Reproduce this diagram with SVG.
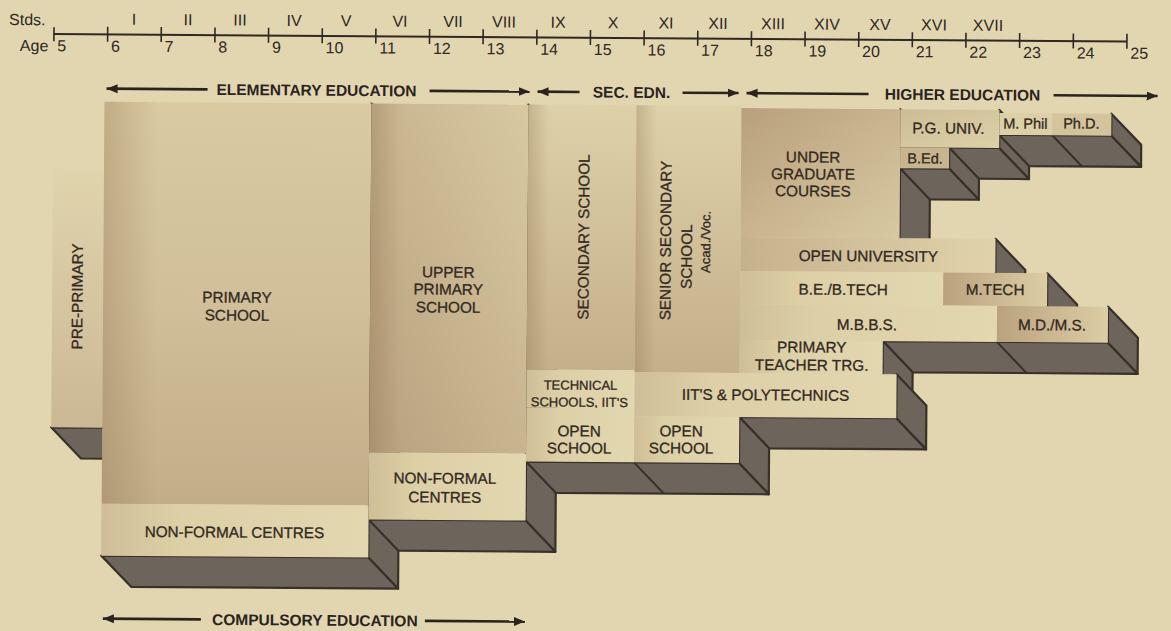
<svg xmlns="http://www.w3.org/2000/svg" width="1171" height="631" viewBox="0 0 1171 631">
<defs>
<style>
.t{font-family:"Liberation Sans",Arial,Helvetica,sans-serif;font-size:15.3px;fill:#33291f;stroke:#33291f;stroke-width:0.3;text-anchor:middle}
.s{font-size:13px}
.h{font-family:"Liberation Sans",Arial,Helvetica,sans-serif;font-size:15.5px;font-weight:bold;fill:#2a231e;text-anchor:middle}
.ax{font-family:"Liberation Sans",Arial,Helvetica,sans-serif;font-size:16px;fill:#2f2823}
.axm{text-anchor:middle}
.face{fill:#6d645c;stroke:#38302a;stroke-width:2.2;stroke-linejoin:round}
.div{stroke:#38302a;stroke-width:2;fill:none}
.arr{stroke:#2a231e;stroke-width:2.6;fill:none;marker-end:url(#ah)}
</style>
<marker id="ah" markerUnits="userSpaceOnUse" markerWidth="12" markerHeight="10" refX="11" refY="5" orient="auto"><path d="M0,0.5 L11,5 L0,9.5 z" fill="#2a231e"/></marker>
<linearGradient id="gPre" x1="0" y1="0" x2="0" y2="1"><stop offset="0" stop-color="#e0d4ad"/><stop offset="1" stop-color="#cbb894"/></linearGradient>
<linearGradient id="gPrim" x1="0" y1="0" x2="0" y2="1"><stop offset="0" stop-color="#d9caa1"/><stop offset="0.5" stop-color="#d0bf99"/><stop offset="1" stop-color="#c2ad89"/></linearGradient>
<linearGradient id="gUpr" x1="1" y1="0" x2="0" y2="1"><stop offset="0" stop-color="#d8c9a1"/><stop offset="1" stop-color="#b8a07e"/></linearGradient>
<linearGradient id="gSec" x1="0" y1="0" x2="0" y2="1"><stop offset="0" stop-color="#ded1a9"/><stop offset="1" stop-color="#c4af8b"/></linearGradient>
<linearGradient id="gUG" x1="0" y1="0" x2="1" y2="1"><stop offset="0" stop-color="#b9a07d"/><stop offset="1" stop-color="#d8c9a1"/></linearGradient>
<linearGradient id="gLight" x1="0" y1="0" x2="1" y2="0"><stop offset="0" stop-color="#cfbe97"/><stop offset="0.3" stop-color="#ddd0a7"/><stop offset="1" stop-color="#e3d7b0"/></linearGradient>
<linearGradient id="gDarkL" x1="0" y1="0" x2="1" y2="0"><stop offset="0" stop-color="#bba27f"/><stop offset="1" stop-color="#dbcda4"/></linearGradient>
<linearGradient id="gOU" x1="0" y1="0" x2="1" y2="0"><stop offset="0" stop-color="#c6b18d"/><stop offset="1" stop-color="#e0d3aa"/></linearGradient>
<linearGradient id="gPG" x1="0" y1="0" x2="1" y2="1"><stop offset="0" stop-color="#cdbd96"/><stop offset="1" stop-color="#ddd0a7"/></linearGradient>
<linearGradient id="gShade" x1="0" y1="0" x2="1" y2="0"><stop offset="0" stop-color="#8a6a48" stop-opacity="0.3"/><stop offset="0.2" stop-color="#8a6a48" stop-opacity="0"/></linearGradient>
</defs>
<rect width="1171" height="631" fill="#e2d6b1"/>
<g id="scene" transform="rotate(0.4 585 315)">
<g id="axis">
<line x1="52" y1="37.7" x2="1125" y2="37.7" stroke="#2f2823" stroke-width="2"/>
<path d="M52,31V45 M105.7,30V45 M159.3,30V45 M213,30V45 M266.6,30V45 M320.3,30V45 M373.9,30V45 M427.6,30V45 M481.2,30V45 M534.9,30V45 M588.5,30V45 M642.2,30V45 M695.8,30V45 M749.5,30V45 M803.1,30V45 M856.8,30V45 M910.4,30V45 M964,30V45 M1017.7,30V45 M1071.4,30V45 M1125,30V45" stroke="#2f2823" stroke-width="1.6" fill="none"/>
<text class="ax" x="7" y="29">Stds.</text>
<text class="ax" x="18" y="55">Age</text>
<g class="ax axm">
<text x="132" y="28">I</text><text x="186" y="28">II</text><text x="238" y="28">III</text><text x="292" y="28">IV</text><text x="344" y="28">V</text><text x="398" y="28">VI</text><text x="451" y="28">VII</text><text x="502" y="28">VIII</text><text x="556" y="28">IX</text><text x="611" y="28">X</text><text x="664" y="28">XI</text><text x="716" y="28">XII</text><text x="771" y="28">XIII</text><text x="825" y="28">XIV</text><text x="878" y="28">XV</text><text x="932" y="28">XVI</text><text x="986" y="28">XVII</text>
</g>
<g class="ax">
<text x="55.5" y="55">5</text><text x="109.2" y="55">6</text><text x="162.8" y="55">7</text><text x="216.5" y="55">8</text><text x="270.1" y="55">9</text><text x="323.8" y="55">10</text><text x="377.4" y="55">11</text><text x="431.1" y="55">12</text><text x="484.7" y="55">13</text><text x="538.4" y="55">14</text><text x="592" y="55">15</text><text x="645.7" y="55">16</text><text x="699.3" y="55">17</text><text x="753" y="55">18</text><text x="806.6" y="55">19</text><text x="860.3" y="55">20</text><text x="913.9" y="55">21</text><text x="967.5" y="55">22</text><text x="1021.2" y="55">23</text><text x="1074.9" y="55">24</text><text x="1128.5" y="55">25</text>
</g>
</g>
<g id="depth-faces">
<polygon class="face" points="52,431 103,431 133,462 82,462"/>
<polygon class="face" points="370,105 400,136 400,590 370,559"/>
<polygon class="face" points="103,559 370,559 400,590 133,590"/>
<polygon class="face" points="527,105 557,136 557,552 527,521"/>
<polygon class="face" points="370,521 527,521 557,552 400,552"/>
<polygon class="face" points="899,107 929,138 929,240 899,240"/>
<polygon class="face" points="998,107 1028,138 1028,176 998,145"/>
<polygon class="face" points="1110,110 1140,141 1140,163 1110,132"/>
<polygon class="face" points="998,132 1110,132 1140,163 1028,163"/>
<line class="div" x1="1051" y1="132" x2="1081" y2="163"/>
<polygon class="face" points="899,145 998,145 1028,176 929,176"/>
<polygon class="face" points="948,145 978,176 978,197 948,166"/>
<polygon class="face" points="899,166 948,166 978,197 929,197"/>
<polygon class="face" points="995,236 1025,267 1025,301 995,270"/>
<polygon class="face" points="1047,270 1077,301 1077,334 1047,303"/>
<polygon class="face" points="1108,303 1138,334 1138,370 1108,339"/>
<polygon class="face" points="883,339 1108,339 1138,370 913,370"/>
<line class="div" x1="997" y1="339" x2="1027" y2="370"/>
<polygon class="face" points="883,339 913,370 913,403 883,372"/>
<polygon class="face" points="897,372 927,403 927,447 897,416"/>
<polygon class="face" points="740,416 897,416 927,447 770,447"/>
<polygon class="face" points="740,416 770,447 770,493 740,462"/>
<polygon class="face" points="527,462 740,462 770,493 557,493"/>
<line class="div" x1="635" y1="462" x2="665" y2="493"/>
</g>
<g id="pre-primary">
<rect x="52" y="172" width="51" height="259" fill="url(#gPre)"/>
<text class="t" transform="rotate(-90 77 300)" x="77" y="305.4">PRE-PRIMARY</text>
</g>
<g id="primary-school">
<rect x="103" y="105" width="267" height="402" fill="url(#gPrim)"/>
<rect x="103" y="105" width="267" height="454" fill="url(#gShade)"/>
<text class="t" x="237" y="305">PRIMARY</text>
<text class="t" x="237" y="323">SCHOOL</text>
</g>
<g id="primary-non-formal">
<rect x="103" y="507" width="267" height="52" fill="url(#gLight)"/>
<text class="t" x="236" y="540">NON-FORMAL CENTRES</text>
</g>
<g id="upper-primary-school">
<rect x="370" y="105" width="157" height="349" fill="url(#gUpr)"/>
<rect x="370" y="105" width="157" height="349" fill="url(#gShade)"/>
<text class="t" x="448" y="278.5">UPPER</text>
<text class="t" x="448" y="295.5">PRIMARY</text>
<text class="t" x="448" y="313.5">SCHOOL</text>
</g>
<g id="upper-primary-non-formal">
<rect x="370" y="454" width="157" height="67" fill="url(#gLight)"/>
<text class="t" x="446" y="484.5">NON-FORMAL</text>
<text class="t" x="446" y="503.5">CENTRES</text>
</g>
<g id="secondary-school">
<rect x="527" y="105" width="108" height="265" fill="url(#gSec)"/>
<rect x="527" y="105" width="108" height="265" fill="url(#gShade)"/>
<text class="t" transform="rotate(-90 583 237)" x="583" y="242.4">SECONDARY SCHOOL</text>
</g>
<g id="technical-schools">
<rect x="527" y="370" width="108" height="38" fill="url(#gLight)"/>
<text class="t s" x="581" y="389.7">TECHNICAL</text>
<text class="t s" x="580" y="406.7">SCHOOLS, IIT'S</text>
</g>
<g id="open-school-secondary">
<rect x="527" y="408" width="108" height="54" fill="url(#gLight)"/>
<text class="t" x="580" y="436.4">OPEN</text>
<text class="t" x="580" y="453.4">SCHOOL</text>
</g>
<g id="senior-secondary-school">
<rect x="635" y="105" width="105" height="267" fill="url(#gSec)"/>
<rect x="635" y="105" width="105" height="267" fill="url(#gShade)"/>
<text class="t" transform="rotate(-90 665 240)" x="665" y="245.4">SENIOR SECONDARY</text>
<text class="t" transform="rotate(-90 686 256)" x="686" y="261.4">SCHOOL</text>
<text class="t s" transform="rotate(-90 705 241)" x="705" y="245.7">Acad./Voc.</text>
</g>
<g id="iits-polytechnics">
<rect x="635" y="372" width="262" height="44" fill="url(#gLight)"/>
<text class="t" x="766" y="399">IIT'S &amp; POLYTECHNICS</text>
</g>
<g id="open-school-senior">
<rect x="635" y="416" width="105" height="46" fill="url(#gLight)"/>
<text class="t" x="682" y="435.7">OPEN</text>
<text class="t" x="682" y="452.7">SCHOOL</text>
</g>
<g id="under-graduate">
<rect x="740" y="107" width="159" height="129" fill="url(#gUG)"/>
<text class="t" x="812" y="160.8">UNDER</text>
<text class="t" x="812" y="177.8">GRADUATE</text>
<text class="t" x="812" y="194.8">COURSES</text>
</g>
<g id="open-university">
<rect x="740" y="236" width="255" height="34" fill="url(#gOU)"/>
<text class="t" x="868" y="259.4">OPEN UNIVERSITY</text>
</g>
<g id="be-btech">
<rect x="740" y="270" width="203" height="33" fill="url(#gLight)"/>
<text class="t" x="843" y="293">B.E./B.TECH</text>
</g>
<g id="mtech">
<rect x="943" y="270" width="104" height="33" fill="url(#gDarkL)"/>
<text class="t" x="995" y="292">M.TECH</text>
</g>
<g id="mbbs">
<rect x="740" y="303" width="257" height="36" fill="url(#gLight)"/>
<text class="t" x="867" y="328">M.B.B.S.</text>
</g>
<g id="md-ms">
<rect x="997" y="303" width="111" height="36" fill="url(#gDarkL)"/>
<text class="t" x="1052" y="327">M.D./M.S.</text>
</g>
<g id="primary-teacher-trg">
<rect x="740" y="339" width="143" height="33" fill="url(#gLight)"/>
<text class="t" x="812" y="350.8">PRIMARY</text>
<text class="t" x="812" y="368.8">TEACHER TRG.</text>
</g>
<g id="pg-univ">
<rect x="899" y="107" width="99" height="38" fill="url(#gPG)"/>
<text class="t" x="947" y="131">P.G. UNIV.</text>
</g>
<g id="m-phil">
<rect x="998" y="110" width="53" height="22" fill="#dcd0a8"/>
<text class="t" x="1024" y="125.5" style="font-size:14.5px">M. Phil</text>
</g>
<g id="phd">
<rect x="1051" y="110" width="59" height="22" fill="#d3c49c"/>
<text class="t" x="1080" y="125" style="font-size:14.5px">Ph.D.</text>
</g>
<g id="b-ed">
<rect x="899" y="145" width="49" height="21" fill="#c8b48f"/>
<text class="t" x="924" y="161" style="font-size:14.5px">B.Ed.</text>
</g>
<g id="connectors">
<line class="arr" x1="206" y1="92" x2="105" y2="92"/>
<line class="arr" x1="428" y1="92" x2="528" y2="92"/>
<line class="arr" x1="578" y1="92" x2="536" y2="92"/>
<line class="arr" x1="681" y1="92" x2="737" y2="92"/>
<line class="arr" x1="867" y1="92" x2="745" y2="92"/>
<line class="arr" x1="1052" y1="92" x2="1156" y2="92"/>
<line class="arr" x1="203" y1="622" x2="105" y2="622"/>
<line class="arr" x1="427" y1="622" x2="527" y2="622"/>
</g>
<g id="stage-labels">
<text class="h" x="315" y="97.5">ELEMENTARY EDUCATION</text>
<text class="h" x="630" y="97.5">SEC. EDN.</text>
<text class="h" x="961" y="97.5">HIGHER EDUCATION</text>
<text class="h" x="317" y="627.5">COMPULSORY EDUCATION</text>
</g>
</g>
</svg>
